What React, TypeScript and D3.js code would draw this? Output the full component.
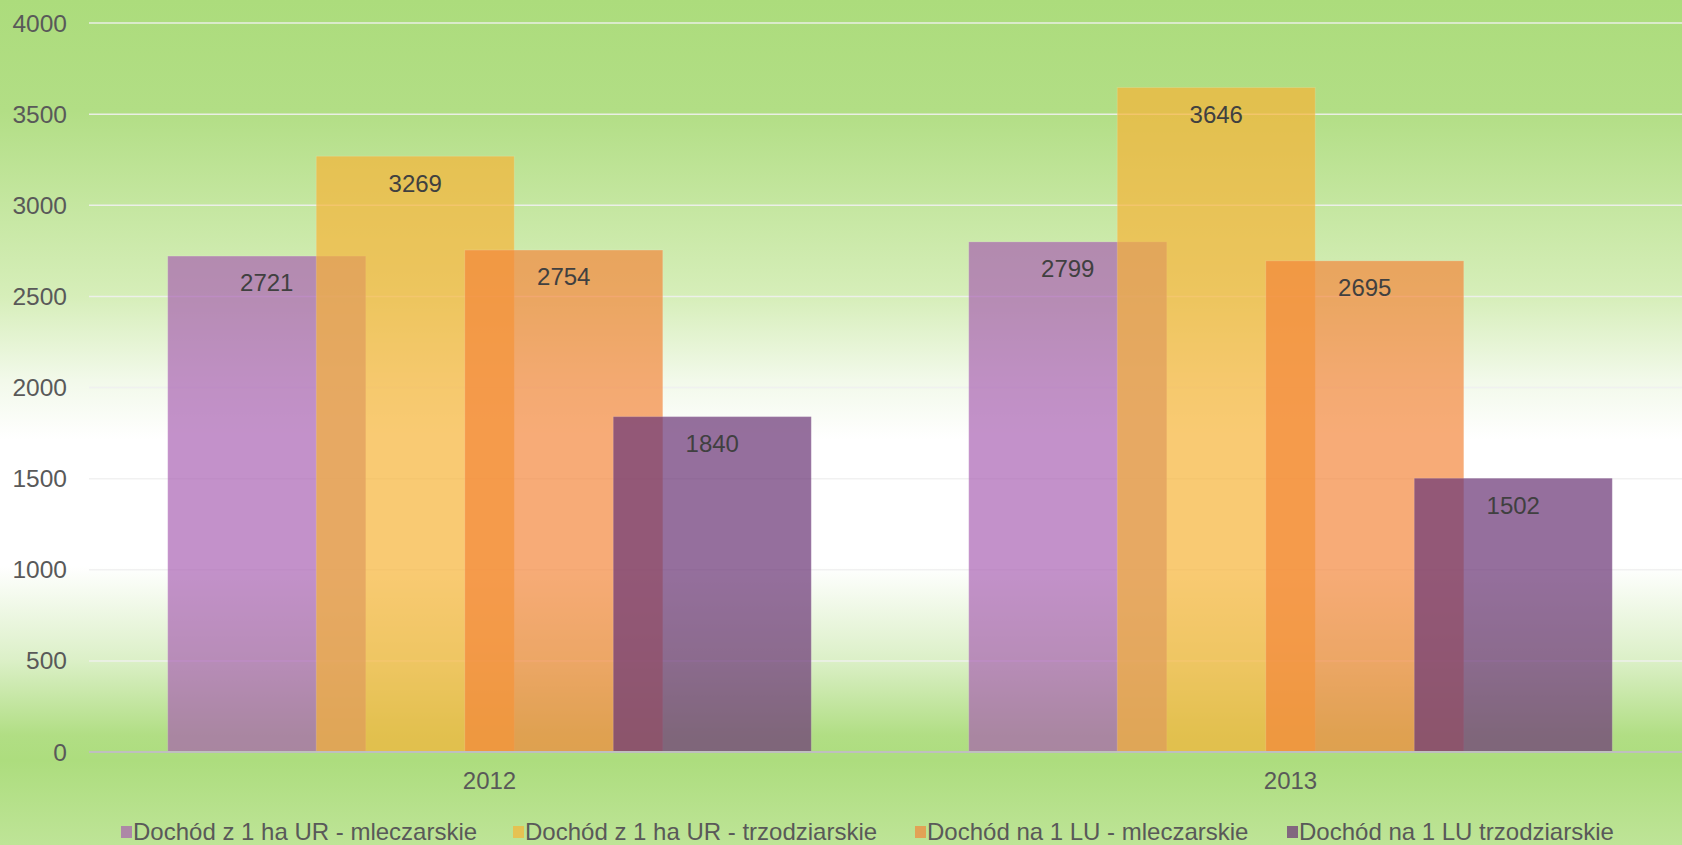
import React from "react";
import * as d3 from "d3";

const categories = ["2012", "2013"];
const seriesNames = [
  "Dochód z 1 ha UR - mleczarskie",
  "Dochód z 1 ha UR - trzodziarskie",
  "Dochód na 1 LU - mleczarskie",
  "Dochód na 1 LU trzodziarskie",
];
const mleczarskieUR = [2721, 2799];
const trzodziarskieUR = [3269, 3646];
const mleczarskieLU = [2754, 2695];
const trzodziarskieLU = [1840, 1502];
const yTicks = [0, 500, 1000, 1500, 2000, 2500, 3000, 3500, 4000];

const seriesValues = [mleczarskieUR, trzodziarskieUR, mleczarskieLU, trzodziarskieLU];
const seriesColors = ["rgb(165,91,176)", "rgb(247,179,55)", "rgb(243,134,58)", "rgb(108,55,119)"];
const seriesAlpha = [0.67, 0.7, 0.69, 0.72];

const W = 1682;
const H = 845;
const FONT = "'Liberation Sans', Arial, sans-serif";

export default function App() {
  const plotLeft = 89;
  const plotRight = 1691;
  const y = d3.scaleLinear().domain([0, 4000]).range([752, 23]);
  const x = d3
    .scaleBand<string>()
    .domain(categories)
    .range([plotLeft, plotRight])
    .paddingInner(0.1966)
    .paddingOuter(0.0983);
  const bw = x.bandwidth();
  const barW = bw / 3.25;
  const barStep = barW * 0.75;

  const legendX = [121, 513, 915, 1287];

  return (
    <svg
      width={W}
      height={H}
      style={{ position: "fixed", left: 0, top: 0, display: "block" }}
      fontFamily={FONT}
    >
      <defs>
        <linearGradient id="bg" x1="0" y1="0" x2="0" y2="1">
          <stop offset="0" stopColor="#acdc7c" />
          <stop offset="0.13" stopColor="#b2de85" />
          <stop offset="0.25" stopColor="#c6e7a2" />
          <stop offset="0.35" stopColor="#d6eeb9" />
          <stop offset="0.45" stopColor="#f2f9ea" />
          <stop offset="0.52" stopColor="#ffffff" />
          <stop offset="0.67" stopColor="#ffffff" />
          <stop offset="0.78" stopColor="#dcf0c8" />
          <stop offset="0.87" stopColor="#b1de84" />
          <stop offset="0.9" stopColor="#addd7e" />
          <stop offset="1" stopColor="#bee497" />
        </linearGradient>
      </defs>
      <rect x={0} y={0} width={W} height={H} fill="url(#bg)" />
      {yTicks.map((t) => (
        <g key={t}>
          {t > 0 && (
            <line
              x1={plotLeft}
              x2={W}
              y1={y(t)}
              y2={y(t)}
              stroke="#f0f0f0"
              strokeOpacity={0.9}
              strokeWidth={1.5}
            />
          )}
          <text
            x={67}
            y={y(t)}
            dy="0.35em"
            textAnchor="end"
            fontSize={24.5}
            fill="#595959"
          >
            {t}
          </text>
        </g>
      ))}
      {seriesValues.map((vals, si) =>
        categories.map((c, ci) => {
          const x0 = (x(c) as number) + si * barStep;
          const v = vals[ci];
          return (
            <rect
              key={`${si}-${ci}`}
              x={x0}
              y={y(v)}
              width={barW}
              height={y(0) - y(v)}
              fill={seriesColors[si]}
              fillOpacity={seriesAlpha[si]}
              stroke="#ffffff"
              strokeOpacity={0.15}
              strokeWidth={1}
            />
          );
        })
      )}
      {seriesValues.map((vals, si) =>
        categories.map((c, ci) => {
          const x0 = (x(c) as number) + si * barStep;
          const v = vals[ci];
          return (
            <text
              key={`l-${si}-${ci}`}
              x={x0 + barW / 2}
              y={y(v) + 27}
              dy="0.35em"
              textAnchor="middle"
              fontSize={24}
              fill="#404040"
            >
              {v}
            </text>
          );
        })
      )}
      <line x1={plotLeft} x2={W} y1={y(0)} y2={y(0)} stroke="#bfbfbf" strokeWidth={2} />
      {categories.map((c) => (
        <text
          key={c}
          x={(x(c) as number) + bw / 2}
          y={781}
          dy="0.35em"
          textAnchor="middle"
          fontSize={24}
          fill="#595959"
        >
          {c}
        </text>
      ))}
      {seriesNames.map((n, i) => (
        <g key={n}>
          <rect
            x={legendX[i]}
            y={826}
            width={11}
            height={12}
            fill={seriesColors[i]}
            fillOpacity={seriesAlpha[i]}
          />
          <text x={legendX[i] + 12} y={832} dy="0.35em" fontSize={24} fill="#595959">
            {n}
          </text>
        </g>
      ))}
    </svg>
  );
}
